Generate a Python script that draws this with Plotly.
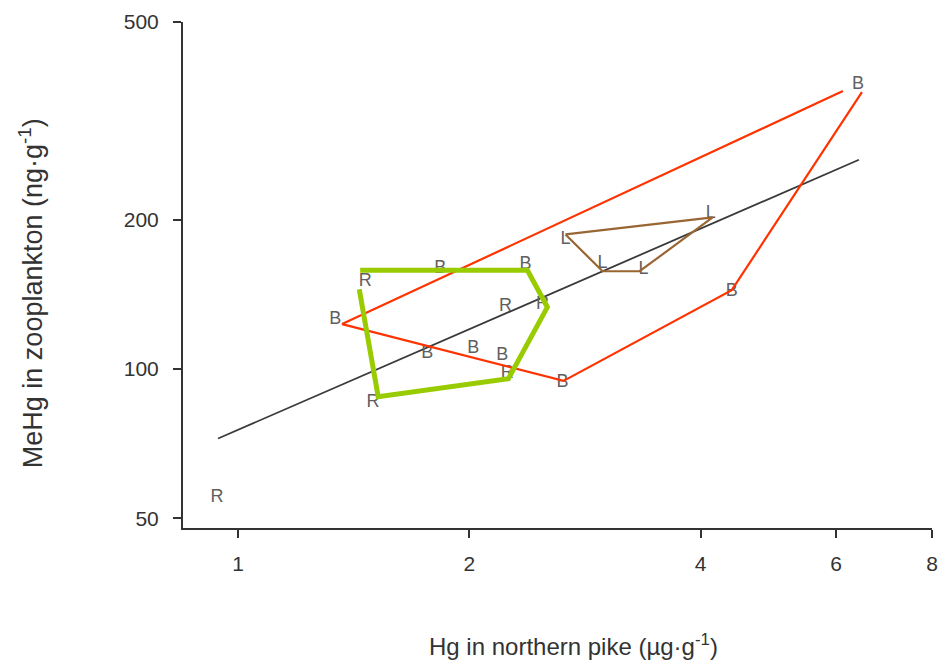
import math
import plotly.graph_objects as go

# ---- data ----
pt_x = [0.939, 1.338, 1.464, 1.833, 2.366, 2.228, 2.490, 1.763, 2.024, 2.208,
        2.241, 1.499, 2.644, 2.668, 2.981, 3.371, 4.122, 4.390, 6.408]
pt_y = [55.1, 126.0, 150.2, 159.5, 162.5, 133.8, 135.0, 107.2, 109.7, 106.2,
        97.7, 85.5, 93.7, 182.4, 163.2, 158.7, 205.6, 143.4, 375.0]
pt_lab = ["R", "B", "R", "B", "B", "R", "R", "B", "B", "B",
          "R", "R", "B", "L", "L", "L", "L", "B", "B"]

# hull of group B (red)
red_x = [6.126, 1.366, 2.652, 4.390, 6.485]
red_y = [363.0, 123.1, 94.6, 144.1, 361.3]
# hull of group R (green)
green_x = [1.438, 1.522, 2.248, 2.527, 2.380, 1.442]
green_y = [144.7, 87.9, 95.5, 133.2, 158.0, 158.0]
# hull of group L (brown)
brown_x = [2.668, 4.146, 3.331, 2.981, 2.668]
brown_y = [186.6, 201.9, 157.3, 157.3, 186.6]
# regression line end points
reg_x = [0.942, 6.427]
reg_y = [72.4, 263.9]

x_ticks = [1, 2, 4, 6, 8]
y_ticks = [50, 100, 200, 500]

x_title = "Hg in northern pike (µg·g<sup>-1</sup>)"
y_title = "MeHg in zooplankton (ng·g<sup>-1</sup>)"

FONT = "Liberation Sans, Arial, Helvetica, sans-serif"

fig = go.Figure()
fig.add_trace(go.Scatter(x=reg_x, y=reg_y, mode="lines",
                         line=dict(color="#3a3a3a", width=1.8), hoverinfo="skip"))
fig.add_trace(go.Scatter(x=pt_x, y=pt_y, mode="text", text=pt_lab,
                         textposition="middle center",
                         textfont=dict(family=FONT, size=18, color="#5f5f5f")))
fig.add_trace(go.Scatter(x=red_x, y=red_y, mode="lines",
                         line=dict(color="#ff3300", width=2.2)))
fig.add_trace(go.Scatter(x=brown_x, y=brown_y, mode="lines",
                         line=dict(color="#996633", width=2.2)))
fig.add_trace(go.Scatter(x=green_x, y=green_y, mode="lines",
                         line=dict(color="#99cc00", width=5)))

axis_font = dict(family=FONT, size=21, color="#333333")
fig.update_layout(
    width=952, height=660,
    margin=dict(l=175, r=28, t=14, b=140, autoexpand=False),
    paper_bgcolor="white", plot_bgcolor="white",
    showlegend=False,
    xaxis=dict(type="log", range=[math.log10(0.848), math.log10(8)],
               tickvals=x_ticks, ticktext=[str(v) for v in x_ticks],
               showgrid=False, zeroline=False, showline=True, automargin=False,
               linecolor="#333333", linewidth=2,
               ticks="outside", ticklen=8, tickwidth=2, tickcolor="#333333",
               ticklabelstandoff=8, tickfont=axis_font),
    yaxis=dict(type="log", range=[math.log10(47.8), math.log10(500)],
               tickvals=y_ticks, ticktext=[str(v) for v in y_ticks],
               showgrid=False, zeroline=False, showline=True, automargin=False,
               linecolor="#333333", linewidth=2,
               ticks="outside", ticklen=8, tickwidth=2, tickcolor="#333333",
               ticklabelstandoff=10, tickfont=axis_font),
    annotations=[
        dict(text=x_title, xref="paper", yref="paper", x=0.522, y=-0.231,
             showarrow=False, xanchor="center", yanchor="middle",
             font=dict(family=FONT, size=24, color="#333333")),
        dict(text=y_title, xref="paper", yref="paper", x=-0.203, y=0.464,
             showarrow=False, xanchor="center", yanchor="middle", textangle=-90,
             font=dict(family=FONT, size=27, color="#333333")),
    ],
)

fig.write_html("out.html")
